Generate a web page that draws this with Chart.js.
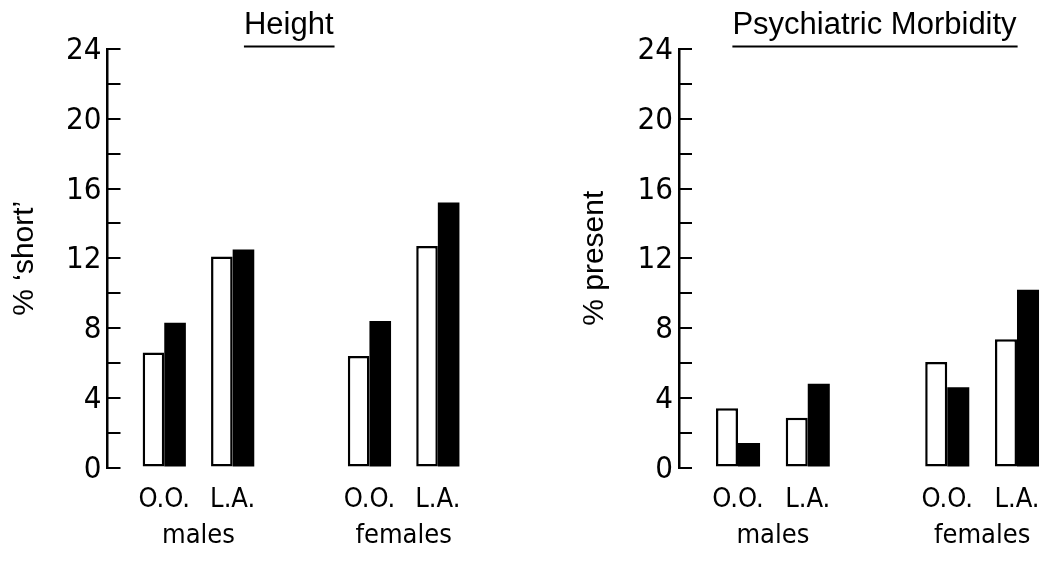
<!DOCTYPE html>
<html>
<head>
<meta charset="utf-8">
<script src="https://cdn.jsdelivr.net/npm/chart.js@4"></script>
<style>
  html, body { margin: 0; padding: 0; background: #fff; overflow: hidden; }
  body { width: 1049px; height: 562px; position: relative; }
  .panel { position: absolute; top: 0; height: 562px; }
  #heightPanel { left: 0; width: 477px; }
  #morbidityPanel { left: 560px; width: 510px; }
</style>
</head>
<body>
<div class="panel" id="heightPanel"><canvas id="heightChart"></canvas></div>
<div class="panel" id="morbidityPanel"><canvas id="morbidityChart"></canvas></div>
<script>
// groups and the two sources shown inside each group
const groups = ["males", "females"];
const sources = ["O.O.", "L.A."];

// bar order: males O.O., males L.A., females O.O., females L.A.
const heightOpen = [6.6, 12.1, 6.4, 12.7];
const heightSolid = [8.3, 12.5, 8.4, 15.2];
const morbidityOpen = [3.4, 2.85, 6.05, 7.35];
const morbiditySolid = [1.4, 4.8, 4.6, 10.2];

const yLabels = [0, 4, 8, 12, 16, 20, 24];

const narrow = "'Liberation Sans Narrow', 'DejaVu Sans Condensed', 'Liberation Sans', sans-serif";
const plain = "'Liberation Sans', Arial, sans-serif";

// one empty slot between the two groups
const slot = i => Math.floor(i / sources.length) * (sources.length + 1) + (i % sources.length);
const groupCentre = g => g * (sources.length + 1) + (sources.length - 1) / 2;

// ✅ underline under the panel title
const underlineTitle = {
  id: "underlineTitle",
  afterDraw(chart) {
    const tb = chart.titleBlock;
    if (!tb) return;
    const opts = chart.options.plugins.title;
    const ctx = chart.ctx;
    ctx.save();
    ctx.font = Chart.helpers.toFont(opts.font).string;
    const w = ctx.measureText(opts.text).width;
    const cx = (tb.left + tb.right) / 2;
    ctx.strokeStyle = "#000";
    ctx.lineWidth = 2;
    ctx.beginPath();
    ctx.moveTo(cx - w / 2, tb.top + 46.5);
    ctx.lineTo(cx + w / 2 + 1, tb.top + 46.5);
    ctx.stroke();
    ctx.restore();
  }
};

function makeChart(id, title, yTitle, open, solid, xMin, xMax, yWidth, yTitlePad) {
  const ctx = document.getElementById(id).getContext("2d");
  return new Chart(ctx, {
    type: "bar",
    data: {
      datasets: [
        {
          data: open.map((v, i) => ({ x: slot(i), y: v })),
          backgroundColor: "#fff",
          borderColor: "#000",
          borderWidth: 2.5,
          borderSkipped: false,
          categoryPercentage: 0.632,
          barPercentage: 1
        },
        {
          data: solid.map((v, i) => ({ x: slot(i), y: v })),
          backgroundColor: "#000",
          borderWidth: 0,
          categoryPercentage: 0.632,
          barPercentage: 1
        }
      ]
    },
    options: {
      responsive: true,
      maintainAspectRatio: false,
      animation: false,
      devicePixelRatio: 1,
      layout: { padding: 0 },
      plugins: {
        legend: { display: false },
        tooltip: { enabled: false },
        title: {
          display: true,
          text: title,
          fullSize: false,
          color: "#000",
          font: { family: plain, size: 31, weight: "normal" },
          padding: { top: 7, bottom: 4.8 }
        }
      },
      scales: {
        x: {
          type: "linear",
          offset: false,
          bounds: "data",
          min: xMin,
          max: xMax,
          weight: 1,
          grid: { display: false, drawTicks: false },
          border: { display: false },
          afterBuildTicks: s => { s.ticks = open.map((_, i) => ({ value: slot(i) })); },
          afterFit: s => { s.height = 52; },
          ticks: {
            autoSkip: false,
            maxRotation: 0,
            padding: 16,
            color: "#000",
            font: { family: narrow, size: 27 },
            callback: (v, i) => sources[i % sources.length]
          }
        },
        group: {
          type: "linear",
          position: "bottom",
          offset: false,
          bounds: "data",
          min: xMin,
          max: xMax,
          weight: 2,
          grid: { display: false, drawTicks: false },
          border: { display: false },
          afterBuildTicks: s => { s.ticks = groups.map((_, g) => ({ value: groupCentre(g) })); },
          afterFit: s => { s.height = 42.5; },
          ticks: {
            autoSkip: false,
            maxRotation: 0,
            padding: 0,
            color: "#000",
            font: { family: narrow, size: 27 },
            callback: (v, i) => groups[i]
          }
        },
        y: {
          min: 0,
          max: 24,
          afterFit: s => { s.width = yWidth; },
          border: { color: "#000", width: 2.5 },
          grid: { drawOnChartArea: false, color: "#000", lineWidth: 2, tickLength: -13 },
          ticks: {
            stepSize: 2,
            autoSkip: false,
            padding: 19,
            labelOffset: 2,
            color: "#000",
            font: { family: narrow, size: 31 },
            callback: v => (yLabels.includes(v) ? String(v) : "")
          },
          title: {
            display: true,
            text: yTitle,
            color: "#000",
            font: { family: plain, size: 30 },
            padding: { top: yTitlePad, bottom: 0 }
          }
        }
      }
    },
    plugins: [underlineTitle]
  });
}

makeChart("heightChart", "Height", "% \u2018short\u2019", heightOpen, heightSolid, -0.83, 4.47, 107.5, 7);
makeChart("morbidityChart", "Psychiatric Morbidity", "% present", morbidityOpen, morbiditySolid, -0.846, 4.76, 119, 17);
</script>
</body>
</html>
